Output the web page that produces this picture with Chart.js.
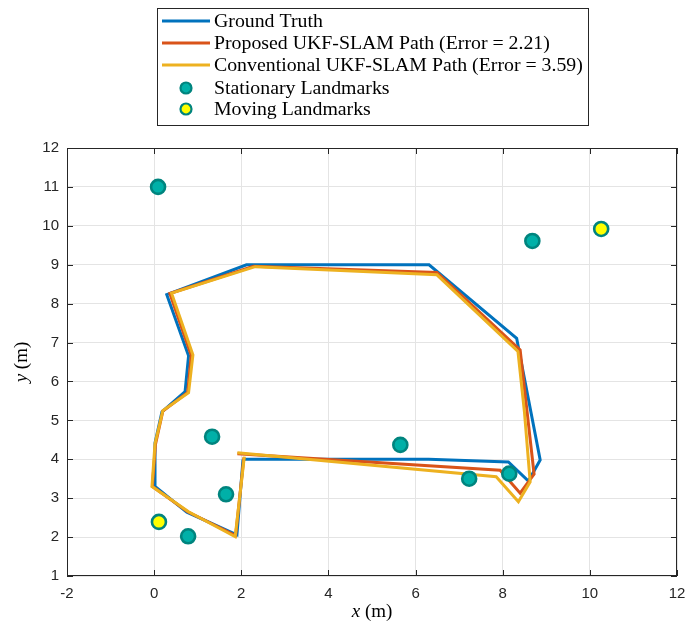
<!DOCTYPE html>
<html><head><meta charset="utf-8">
<script src="https://cdn.jsdelivr.net/npm/chart.js@4.4.0/dist/chart.umd.min.js"></script>
<style>html,body{margin:0;padding:0;background:#fff;overflow:hidden}</style>
</head><body>
<canvas id="c" width="699" height="626" style="display:block"></canvas>
<script>
// ---- data ----
const seriesLabels = [
  'Ground Truth',
  'Proposed UKF-SLAM Path (Error = 2.21)',
  'Conventional UKF-SLAM Path (Error = 3.59)',
  'Stationary Landmarks',
  'Moving Landmarks'
];
const xTicks = [-2, 0, 2, 4, 6, 8, 10, 12];
const yTicks = [1, 2, 3, 4, 5, 6, 7, 8, 9, 10, 11, 12];

const gtX = [2.04, 6.30, 8.13, 8.59, 8.86, 8.32, 6.31, 2.12, 0.29, 0.79, 0.71, 0.18, 0.02, 0.02, 0.75, 1.90, 2.04];
const gtY = [4.00, 4.00, 3.93, 3.44, 3.98, 7.11, 9.00, 9.00, 8.23, 6.66, 5.74, 5.22, 4.42, 3.30, 2.64, 2.06, 4.00];

const prX = [1.91, 7.94, 8.40, 8.72, 8.40, 6.49, 2.28, 0.36, 0.85, 0.77, 0.20, 0.03, -0.04, 0.77, 1.87, 2.06];
const prY = [4.14, 3.72, 3.13, 3.62, 6.81, 8.80, 8.96, 8.26, 6.67, 5.72, 5.24, 4.38, 3.30, 2.65, 2.04, 4.05];

const cvX = [1.91, 7.85, 8.36, 8.63, 8.50, 8.35, 6.49, 2.32, 0.40, 0.89, 0.79, 0.20, 0.02, -0.05, 0.79, 1.86, 2.07];
const cvY = [4.17, 3.55, 2.91, 3.42, 5.20, 6.77, 8.74, 8.95, 8.27, 6.68, 5.71, 5.25, 4.40, 3.30, 2.65, 2.01, 4.07];

const stX = [0.09, 8.68, 1.33, 5.65, 1.65, 7.23, 8.15, 0.78];
const stY = [11.0, 9.61, 4.58, 4.37, 3.10, 3.50, 3.63, 2.02];

const mvX = [10.26, 0.11];
const mvY = [9.92, 2.39];

// ---- styling ----
const C_BLUE = '#0072BD', C_RED = '#D95319', C_ORANGE = '#EDB120';
const C_TEAL = '#00B0A8', C_TEAL_EDGE = '#00847E', C_YELLOW = '#FFFF00';
const AXIS_COL = '#262626';
const SERIF = '"Liberation Serif", "DejaVu Serif", serif';
const SANS = '"Liberation Sans", Arial, sans-serif';

const pts = (xs, ys) => xs.map((x, i) => ({x, y: ys[i]}));

const lineDs = (label, xs, ys, col, order) => ({
  label, data: pts(xs, ys), showLine: true, borderColor: col, backgroundColor: col,
  borderWidth: 3, pointRadius: 0, pointHoverRadius: 0, tension: 0, order,
  borderJoinStyle: 'miter', borderCapStyle: 'butt'
});
const markDs = (label, xs, ys, fill, order) => ({
  label, data: pts(xs, ys), showLine: false, pointRadius: 7, pointHoverRadius: 7,
  pointBackgroundColor: fill, pointBorderColor: C_TEAL_EDGE, pointBorderWidth: 2.6,
  backgroundColor: fill, borderColor: C_TEAL_EDGE, order
});

const legendItems = [
  {type: 'line', col: C_BLUE},
  {type: 'line', col: C_RED},
  {type: 'line', col: C_ORANGE},
  {type: 'mark', col: C_TEAL},
  {type: 'mark', col: C_YELLOW}
];

const decor = {
  id: 'decor',
  afterDraw(chart) {
    const ctx = chart.ctx, a = chart.chartArea;
    const xs = chart.scales.x, ys = chart.scales.y;
    ctx.save();
    // box
    ctx.strokeStyle = AXIS_COL; ctx.lineWidth = 1;
    ctx.strokeRect(Math.round(a.left) + 0.5, Math.round(a.top) + 0.5,
                   Math.round(a.right - a.left) - 1, Math.round(a.bottom - a.top) - 1);
    // inward ticks
    ctx.beginPath();
    const tl = 6;
    xTicks.forEach(v => {
      const px = Math.round(xs.getPixelForValue(v)) + 0.5;
      ctx.moveTo(px, a.bottom); ctx.lineTo(px, a.bottom - tl);
      ctx.moveTo(px, a.top); ctx.lineTo(px, a.top + tl);
    });
    yTicks.forEach(v => {
      const py = Math.round(ys.getPixelForValue(v)) + 0.5;
      ctx.moveTo(a.left, py); ctx.lineTo(a.left + tl, py);
      ctx.moveTo(a.right, py); ctx.lineTo(a.right - tl, py);
    });
    ctx.stroke();

    // axis titles (italic variable + upright unit)
    const drawTitle = (v) => {
      ctx.font = 'italic 19px ' + SERIF;
      const w1 = ctx.measureText(v).width;
      ctx.font = '19px ' + SERIF;
      const w2 = ctx.measureText(' (m)').width;
      const tot = w1 + w2;
      ctx.textBaseline = 'middle'; ctx.textAlign = 'left'; ctx.fillStyle = '#000';
      ctx.font = 'italic 19px ' + SERIF;
      ctx.fillText(v, -tot / 2, 0);
      ctx.font = '19px ' + SERIF;
      ctx.fillText(' (m)', -tot / 2 + w1, 0);
    };
    ctx.save();
    ctx.translate((a.left + a.right) / 2, 612);
    drawTitle('x');
    ctx.restore();
    ctx.save();
    ctx.translate(22, (a.top + a.bottom) / 2);
    ctx.rotate(-Math.PI / 2);
    drawTitle('y');
    ctx.restore();

    // legend
    const L = 157, T = 8, W = 431, H = 117;
    ctx.fillStyle = '#fff';
    ctx.fillRect(L, T, W, H);
    ctx.strokeStyle = AXIS_COL; ctx.lineWidth = 1;
    ctx.strokeRect(L + 0.5, T + 0.5, W, H);
    const rowY = [21, 43, 65, 88, 109];
    // fit the longest label into the reference width (214 -> 583)
    ctx.font = '18px ' + SERIF;
    const maxW = Math.max(...seriesLabels.map(s => ctx.measureText(s).width));
    const fs = Math.min(21, 18 * 369 / maxW);
    ctx.font = fs.toFixed(2) + 'px ' + SERIF;
    ctx.textBaseline = 'middle'; ctx.textAlign = 'left';
    legendItems.forEach((it, i) => {
      const y = rowY[i];
      if (it.type === 'line') {
        ctx.strokeStyle = it.col; ctx.lineWidth = 3;
        ctx.beginPath(); ctx.moveTo(162, y); ctx.lineTo(210, y); ctx.stroke();
      } else {
        ctx.beginPath(); ctx.arc(186, y, 5.5, 0, Math.PI * 2);
        ctx.fillStyle = it.col; ctx.fill();
        ctx.strokeStyle = C_TEAL_EDGE; ctx.lineWidth = 2.2; ctx.stroke();
      }
      ctx.fillStyle = '#000';
      ctx.fillText(seriesLabels[i], 214, y + 1);
    });
    ctx.restore();
  }
};

new Chart(document.getElementById('c'), {
  type: 'scatter',
  data: {
    datasets: [
      lineDs(seriesLabels[0], gtX, gtY, C_BLUE, 5),
      lineDs(seriesLabels[1], prX, prY, C_RED, 4),
      lineDs(seriesLabels[2], cvX, cvY, C_ORANGE, 3),
      markDs(seriesLabels[3], stX, stY, C_TEAL, 2),
      markDs(seriesLabels[4], mvX, mvY, C_YELLOW, 1)
    ]
  },
  options: {
    responsive: false, animation: false, devicePixelRatio: 1,
    layout: {padding: {left: 0, right: 22, top: 148, bottom: 0}},
    plugins: {legend: {display: false}, tooltip: {enabled: false}, title: {display: false}},
    scales: {
      x: {
        type: 'linear', min: -2, max: 12,
        afterBuildTicks: s => { s.ticks = xTicks.map(v => ({value: v})); },
        afterFit: s => { s.height = 50; },
        grid: {color: '#e4e4e4', lineWidth: 1, drawTicks: false},
        border: {display: false},
        ticks: {color: AXIS_COL, font: {family: SANS, size: 15}, padding: 9, maxRotation: 0}
      },
      y: {
        type: 'linear', min: 1, max: 12,
        afterBuildTicks: s => { s.ticks = yTicks.map(v => ({value: v})); },
        afterFit: s => { s.width = 67; },
        grid: {color: '#e4e4e4', lineWidth: 1, drawTicks: false},
        border: {display: false},
        ticks: {color: AXIS_COL, font: {family: SANS, size: 15}, padding: 8}
      }
    }
  },
  plugins: [decor]
});
</script>
</body></html>
